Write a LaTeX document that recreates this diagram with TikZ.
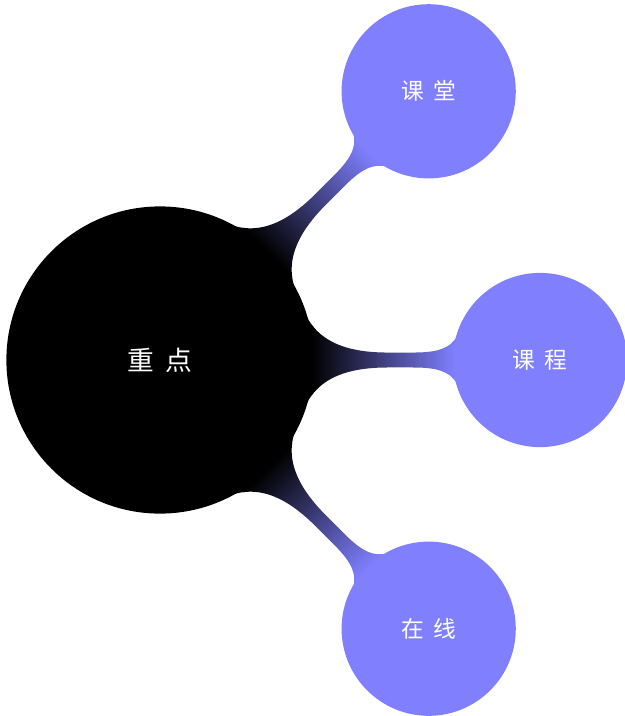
\documentclass[tikz,border=0pt]{standalone}
\usepackage{fontspec}
\newfontfamily\cjk{Noto Sans CJK SC}
\usetikzlibrary{mindmap}
\tikzset{
  rootidea/.style={concept, minimum size=4cm, text width=3cm,
    font=\cjk\fontsize{10}{12}\selectfont},
  subidea/.style={concept, minimum size=2.25cm, text width=2cm,
    font=\cjk\fontsize{8.5}{10}\selectfont}
}
\begin{document}
\begin{tikzpicture}[mindmap, concept color=black, text=white]
  \useasboundingbox (-2.105,-4.684) rectangle (6.118,4.737);
  \node[rootidea] (root) at (0,0) {重\hspace{4.5pt}点}
    child[grow=45, concept color=blue!50, level distance=5cm]
      {node[subidea] (ketang) {课\hspace{3.4pt}堂}}
    child[grow=0, concept color=blue!50, level distance=5cm]
      {node[subidea] (kecheng) {课\hspace{3.4pt}程}}
    child[grow=-45, concept color=blue!50, level distance=5cm]
      {node[subidea] (zaixian) {在\hspace{3.4pt}线}};
\end{tikzpicture}
\end{document}
